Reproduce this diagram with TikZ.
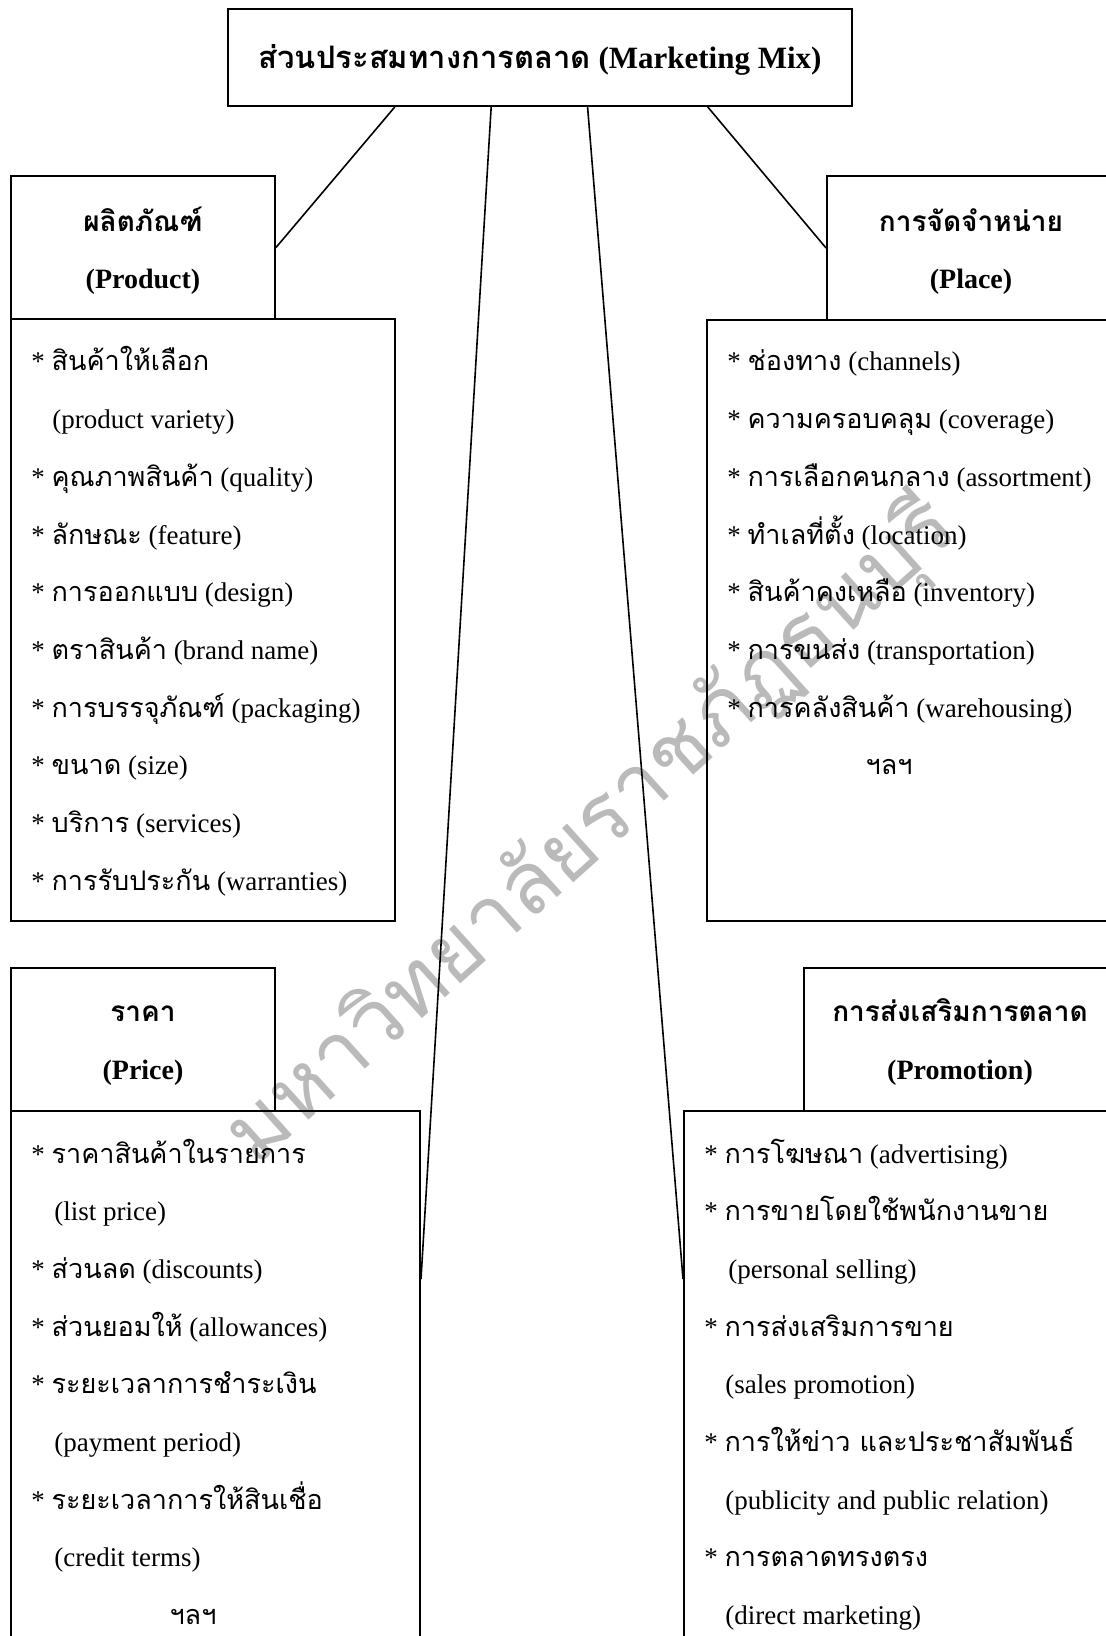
\documentclass[tikz,border=0pt]{standalone}
\usepackage{fontspec}
\setmainfont{Liberation Serif}
\newfontfamily\thaifont[Script=Thai]{Loma}
\usetikzlibrary{positioning,fit,calc}
\newcommand{\tha}[1]{{\thaifont #1}}

\begin{document}
\begin{tikzpicture}[
        x=0.5pt, y=-0.5pt,
        font=\fontsize{13.5}{16}\selectfont,
        box/.style={draw, line width=1pt, inner sep=0pt},
        head/.style={anchor=base, inner sep=0pt, font=\fontsize{14}{16}\selectfont\bfseries},
        item/.style={anchor=base west, inner sep=0pt},
        link/.style={line width=0.8pt},
        watermark/.style={text=black!27, inner sep=0pt, font=\fontsize{43}{43}\selectfont\thaifont},
    ]
        \useasboundingbox (0,0) rectangle (1106,1636);
        \clip (0,0) rectangle (1106,1636);
        \def\gap{57.7}
        % watermark
        \node[watermark, rotate=42] (wmark) at (592,832) {มหาวิทยาลัยราชภัฏธนบุรี};
        % title
        \node[box, fit={(228,9) (852,106)}] (title) {};
        \node[head, font=\fontsize{15.5}{18}\selectfont\bfseries] (titletxt) at (540,69)
            {\tha{ส่วนประสมทางการตลาด} (Marketing Mix)};
        % four boxes
        \node[box, fit={(11,176) (275,319)}] (prodhead) {};
        \node[box, fit={(11,319) (395,921)}] (prodbody) {};
        \node[box, fit={(827,176) (1115,320)}] (placehead) {};
        \node[box, fit={(707,320) (1115,921)}] (placebody) {};
        \node[box, fit={(11,968) (275,1111)}] (pricehead) {};
        \node[box, fit={(11,1111) (420,1660)}] (pricebody) {};
        \node[box, fit={(804,968) (1115,1111)}] (promohead) {};
        \node[box, fit={(684,1111) (1115,1660)}] (promobody) {};
        % headings
        \node[head] (prodt1) at (143,232) {\tha{ผลิตภัณฑ์}};
        \node[head] (prodt2) at (143,289) {(Product)};
        \node[head] (placet1) at (971,232) {\tha{การจัดจำหน่าย}};
        \node[head] (placet2) at (971,289) {(Place)};
        \node[head] (pricet1) at (143,1021) {\tha{ราคา}};
        \node[head] (pricet2) at (143,1079) {(Price)};
        \node[head] (promot1) at (960,1021) {\tha{การส่งเสริมการตลาด}};
        \node[head] (promot2) at (960,1079) {(Promotion)};
        % lists
        \foreach \x/\txt [count=\i from 0] in {
                31/{* \tha{สินค้าให้เลือก}}, 52/{(product variety)},
                31/{* \tha{คุณภาพสินค้า} (quality)}, 31/{* \tha{ลักษณะ} (feature)},
                31/{* \tha{การออกแบบ} (design)}, 31/{* \tha{ตราสินค้า} (brand name)},
                31/{* \tha{การบรรจุภัณฑ์} (packaging)}, 31/{* \tha{ขนาด} (size)},
                31/{* \tha{บริการ} (services)}, 31/{* \tha{การรับประกัน} (warranties)}}
            \node[item] (prod-\i) at (\x,{371+\gap*\i}) {\txt};
        \foreach \txt [count=\i from 0] in {
                {* \tha{ช่องทาง} (channels)}, {* \tha{ความครอบคลุม} (coverage)},
                {* \tha{การเลือกคนกลาง} (assortment)}, {* \tha{ทำเลที่ตั้ง} (location)},
                {* \tha{สินค้าคงเหลือ} (inventory)}, {* \tha{การขนส่ง} (transportation)},
                {* \tha{การคลังสินค้า} (warehousing)}}
            \node[item] (place-\i) at (727,{371+\gap*\i}) {\txt};
        \node[anchor=base, inner sep=0pt] (place-etc) at (889,{371+\gap*7}) {\tha{ฯลฯ}};
        \foreach \x/\txt [count=\i from 0] in {
                31/{* \tha{ราคาสินค้าในรายการ}}, 54/{(list price)},
                31/{* \tha{ส่วนลด} (discounts)}, 31/{* \tha{ส่วนยอมให้} (allowances)},
                31/{* \tha{ระยะเวลาการชำระเงิน}}, 54/{(payment period)},
                31/{* \tha{ระยะเวลาการให้สินเชื่อ}}, 54/{(credit terms)}}
            \node[item] (price-\i) at (\x,{1163+\gap*\i}) {\txt};
        \node[anchor=base, inner sep=0pt] (price-etc) at (193,{1163+\gap*8}) {\tha{ฯลฯ}};
        \foreach \x/\txt [count=\i from 0] in {
                704/{* \tha{การโฆษณา} (advertising)}, 704/{* \tha{การขายโดยใช้พนักงานขาย}},
                728/{(personal selling)}, 704/{* \tha{การส่งเสริมการขาย}},
                725/{(sales promotion)}, 704/{* \tha{การให้ข่าว และประชาสัมพันธ์}},
                725/{(publicity and public relation)}, 704/{* \tha{การตลาดทรงตรง}},
                725/{(direct marketing)}}
            \node[item] (promo-\i) at (\x,{1163+\gap*\i}) {\txt};
        % connectors
        \coordinate (pricejoin) at ($(pricebody.north east)+(0,169)$);
        \coordinate (promojoin) at ($(promobody.north west)+(0,169)$);
        \draw[link] ($(title.south west)!0.268!(title.south east)$) -- (prodhead.east);
        \draw[link] ($(title.south west)!0.422!(title.south east)$) -- (pricejoin);
        \draw[link] ($(title.south west)!0.576!(title.south east)$) -- (promojoin);
        \draw[link] ($(title.south west)!0.768!(title.south east)$) -- (placehead.west);
    \end{tikzpicture}
\end{document}
